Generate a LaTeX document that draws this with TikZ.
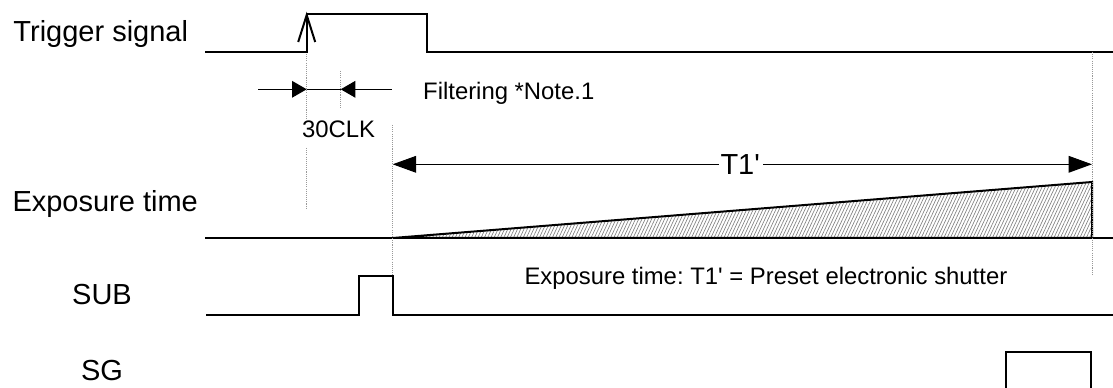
\documentclass[tikz,border=0pt]{standalone}
\usepackage{fontspec}
\setmainfont{Liberation Sans}
\usetikzlibrary{arrows.meta,patterns.meta}

\tikzset{every picture/.style={line width=0.75pt}}
\tikzset{
	wave/.style={line width=1.5pt},
	guide/.style={draw=gray!80, line width=0.6pt, dash pattern=on 0.8pt off 0.8pt},
	lbl/.style={inner sep=0pt, font=\fontsize{21.75}{26}\selectfont},
	txt/.style={inner sep=0pt, font=\fontsize{17.9}{21}\selectfont\frenchspacing},
	dimtip/.style={-{Triangle[length=11pt,width=12.5pt]}},
	spantip/.style={-{Triangle[length=17.5pt,width=12.5pt]}}
}

\begin{document}
\begin{tikzpicture}[x=0.75pt,y=0.75pt,yscale=-1,xscale=1]
	\useasboundingbox (0,0) rectangle (1113,388);

	% Signal names
	\node[lbl, anchor=base west] (trig) at (13,41.7) {Trigger signal};
	\node[lbl, anchor=base west] (expo) at (12,211.7) {Exposure time};
	\node[lbl, anchor=base] (sub) at (102,305) {SUB};
	\node[lbl, anchor=base] (sg) at (102,380) {SG};

	%Trigger signal
	\draw [wave] (205,52) -- (306.7,52) -- (306.7,14) -- (426.7,14) -- (426.7,52) -- (1113,52) ;
	%Rising edge mark
	\draw [wave, line join=miter] (298.2,42) -- (306.7,15) -- (315.2,42) ;

	%Exposure baseline and ramp
	\draw [wave] (205,238) -- (1113,238) ;
	\draw [wave, pattern={Lines[angle=65,distance=2.2pt,line width=0.5pt]}, pattern color=gray] (392.7,238) -- (1092,182) -- (1092,238) -- cycle ;

	%SUB
	\draw [wave] (206,315) -- (359,315) -- (359,276) -- (393.3,276) -- (393.3,315) -- (1113,315) ;

	%SG
	\draw [wave] (1006,388) -- (1006,352.3) -- (1091,352.3) -- (1091,388) ;

	%Dotted guides
	\draw [guide] (306.7,54) -- (306.7,120) ;
	\draw [guide] (306.7,148) -- (306.7,209) ;
	\draw [guide] (340.7,71) -- (340.7,109) ;
	\draw [guide] (392.7,125) -- (392.7,276) ;
	\draw [guide] (1092.7,52) -- (1092.7,275) ;

	%Filtering window
	\coordinate (fA) at (306.7,89.3);
	\coordinate (fB) at (340.7,89.3);
	\draw [dimtip] (258,89.3) -- (fA) ;
	\draw (fA) -- (fB) ;
	\draw [dimtip] (391.7,89.3) -- (fB) ;

	% Text Node
	\node[txt, anchor=base west] (clk) at (301.7,137.3) {30CLK};
	% Text Node
	\node[txt, anchor=base west] (filt) at (422.7,100) {Filtering *Note.1};

	%T1' span
	\node[lbl, anchor=base west] (t1) at (720,174.3) {T1\textquotesingle};
	\coordinate (t1L) at (392.7,164.3);
	\coordinate (t1R) at (1092,164.3);
	\draw [spantip] ([xshift=-1pt]t1.west |- t1L) -- (t1L) ;
	\draw [spantip] ([xshift=2pt]t1.east |- t1R) -- (t1R) ;

	% Text Node
	\node[txt, anchor=base west] (note) at (524,285) {Exposure time: T1\textquotesingle{} = Preset electronic shutter};

\end{tikzpicture}
\end{document}
